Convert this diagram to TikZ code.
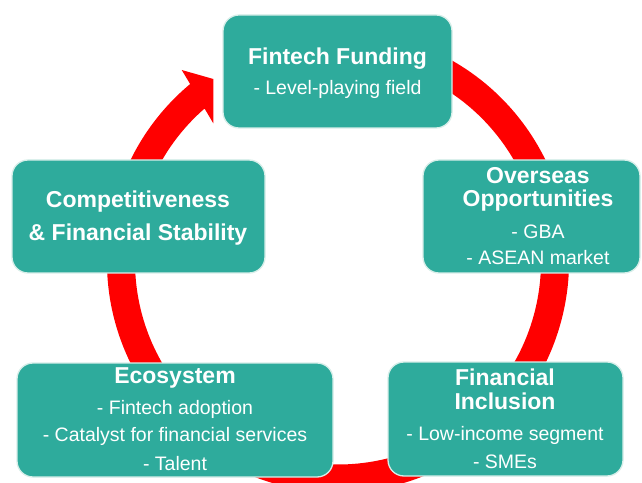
\documentclass[tikz,border=0pt]{standalone}
\usepackage{fontspec}
\setmainfont{Liberation Sans}
\usetikzlibrary{calc}
\definecolor{tealbox}{RGB}{46,171,156}
\definecolor{boxedge}{RGB}{215,238,233}
\definecolor{ringred}{RGB}{255,0,0}
\tikzset{
  box/.style={draw=boxedge, line width=1.3pt, fill=tealbox, rounded corners=16pt, inner sep=0pt},
  ttl/.style={anchor=base, inner sep=0pt, text=white, font=\fontsize{23}{28}\selectfont\bfseries},
  sub/.style={anchor=base, inner sep=0pt, text=white, font=\fontsize{19.5}{24}\selectfont},
}
\begin{document}
\begin{tikzpicture}[x=1pt,y=1pt]
\useasboundingbox (0,0) rectangle (642,482);
\fill[white] (0,0) rectangle (642,482);
% ring
\coordinate (C) at (338,220.5);
\coordinate (ob) at (181.7,412);
\coordinate (tip) at (213.3,403);
\coordinate (ib) at (213.3,358.7);
\fill[ringred] ($(C)+(75:231)$) arc[start angle=75, end angle=-230.2, radius=231]
  -- (ob) -- (tip) -- (ib) -- ($(C)+(-228.9:203)$)
  arc[start angle=-228.9, end angle=75, radius=203] -- cycle;
% boxes
\node[box, minimum width=229pt, minimum height=113pt] (fund) at (337.5,410.5) {};
\node[box, minimum width=253pt, minimum height=113pt] (comp) at (138.5,265.5) {};
\node[box, minimum width=217pt, minimum height=113pt] (over) at (531.5,265.5) {};
\node[box, minimum width=316pt, minimum height=114pt] (eco) at (175,62) {};
\node[box, minimum width=235pt, minimum height=114pt] (incl) at (505.5,63) {};
% texts
\node[ttl] (fundt) at (337.5,417) {Fintech Funding};
\node[sub] (funds) at (337.5,387) {- Level-playing field};
\node[ttl] (compt1) at (138,274.7) {Competitiveness};
\node[ttl] (compt2) at (138,241.3) {\& Financial Stability};
\node[ttl] (overt1) at (538,298.7) {Overseas};
\node[ttl] (overt2) at (538,275.3) {Opportunities};
\node[sub] (overs1) at (538,243.7) {- GBA};
\node[sub] (overs2) at (538,217) {- ASEAN market};
\node[ttl] (ecot) at (175,98.7) {Ecosystem};
\node[sub] (ecos1) at (175,68) {- Fintech adoption};
\node[sub] (ecos2) at (175,40.3) {- Catalyst for financial services};
\node[sub] (ecos3) at (175,11.3) {- Talent};
\node[ttl] (inclt1) at (505,97) {Financial};
\node[ttl] (inclt2) at (505,72.7) {Inclusion};
\node[sub] (incls1) at (505,42) {- Low-income segment};
\node[sub] (incls2) at (505,13.7) {- SMEs};
\end{tikzpicture}
\end{document}
